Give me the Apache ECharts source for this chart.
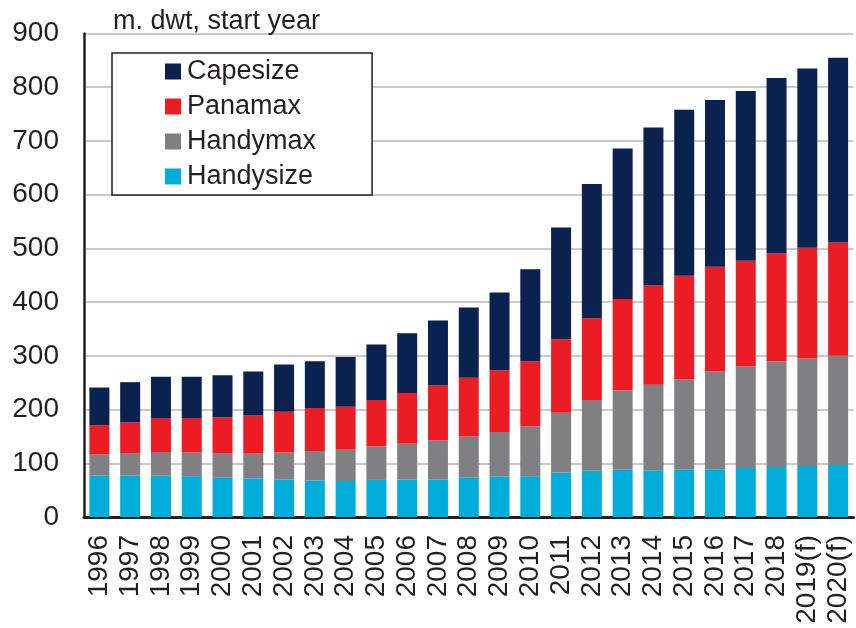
<!DOCTYPE html>
<html>
<head>
<meta charset="utf-8">
<script src="https://cdn.jsdelivr.net/npm/echarts@6/dist/echarts.min.js"></script>
<style>
  html, body { margin: 0; padding: 0; background: #fff; }
  #chart { width: 856px; height: 628px; }
</style>
</head>
<body>
<div id="chart"></div>
<script>
// m. dwt, start year
var years = ['1996', '1997', '1998', '1999', '2000', '2001', '2002', '2003', '2004', '2005',
  '2006', '2007', '2008', '2009', '2010', '2011', '2012', '2013', '2014', '2015',
  '2016', '2017', '2018', '2019(f)', '2020(f)'];
var handysize = [77, 77, 77, 76, 73, 72, 70, 68, 67, 69, 70, 70, 73, 75, 76, 83, 86, 88, 87, 88, 89, 91, 93, 95, 97];
var handymax = [40, 42, 44, 44, 45, 46, 50, 55, 58, 62, 67, 73, 77, 83, 93, 111, 132, 148, 159, 168, 182, 189, 197, 200, 203];
var panamax = [54, 57, 63, 64, 67, 71, 76, 80, 80, 87, 94, 102, 109, 115, 121, 137, 152, 170, 185, 193, 195, 197, 201, 206, 211];
var capesize = [70, 75, 77, 77, 79, 82, 88, 87, 93, 103, 111, 121, 131, 145, 171, 208, 250, 280, 294, 309, 310, 316, 326, 334, 344];
var yTicks = [0, 100, 200, 300, 400, 500, 600, 700, 800, 900];

var font = '"Liberation Sans", Arial, sans-serif';
var textColor = '#231f20';

var chart = echarts.init(document.getElementById('chart'));

function bar(name, data, color) {
  return {
    name: name,
    type: 'bar',
    stack: 'total',
    barWidth: 20,
    itemStyle: { color: color },
    data: data
  };
}

chart.setOption({
  animation: false,
  backgroundColor: '#fff',
  textStyle: { fontFamily: font },
  title: {
    text: 'm. dwt, start year',
    left: 113,
    top: 8,
    padding: 0,
    textStyle: { fontSize: 27, fontWeight: 'normal', color: textColor, fontFamily: font }
  },
  legend: {
    data: ['Capesize', 'Panamax', 'Handymax', 'Handysize'],
    orient: 'vertical',
    left: 112,
    top: 53,
    width: 260,
    padding: [5, 56, 5, 53],
    itemWidth: 16,
    itemHeight: 16,
    itemGap: 8,
    icon: 'rect',
    borderColor: '#231f20',
    borderWidth: 1.5,
    backgroundColor: '#fff',
    textStyle: { fontSize: 27, color: textColor, fontFamily: font, padding: [0, 0, 0, 1] }
  },
  grid: {
    left: 84,
    right: 2.5,
    top: 33.5,
    bottom: 111
  },
  xAxis: {
    type: 'category',
    data: years,
    axisLine: { lineStyle: { color: '#231f20', width: 3 } },
    axisTick: { show: false },
    axisLabel: {
      rotate: 90,
      interval: 0,
      margin: 18,
      fontSize: 28,
      color: textColor,
      fontFamily: font
    }
  },
  yAxis: {
    type: 'value',
    min: yTicks[0],
    max: yTicks[yTicks.length - 1],
    interval: 100,
    axisLine: { show: true, lineStyle: { color: '#231f20', width: 2.5 } },
    axisTick: { show: false },
    splitLine: { lineStyle: { color: '#c9c9cb', width: 2 } },
    axisLabel: {
      margin: 25,
      fontSize: 28,
      color: textColor,
      fontFamily: font
    }
  },
  series: [
    bar('Handysize', handysize, '#00acd9'),
    bar('Handymax', handymax, '#808083'),
    bar('Panamax', panamax, '#ec1c24'),
    bar('Capesize', capesize, '#0b2150')
  ]
});
</script>
</body>
</html>
